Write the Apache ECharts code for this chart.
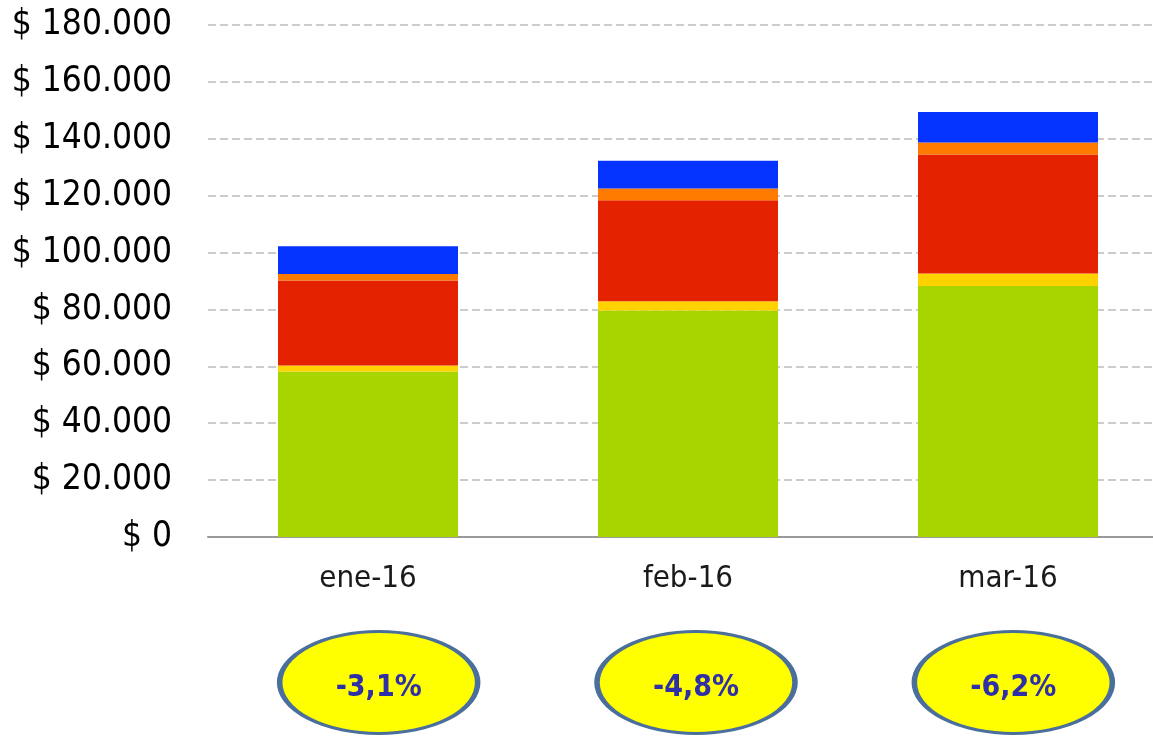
<!DOCTYPE html>
<html>
<head>
<meta charset="utf-8">
<script src="https://cdn.jsdelivr.net/npm/echarts@6/dist/echarts.min.js"></script>
<style>
  html, body { margin: 0; padding: 0; background: #fff; }
  #main { width: 1153px; height: 737px; }
</style>
</head>
<body>
<div id="main"></div>
<script>
var chartDom = document.getElementById('main');
var myChart = echarts.init(chartDom);

// datos
var meses = ['ene-16', 'feb-16', 'mar-16'];
var verde = [58200, 79650, 88200];
var amarillo = [2100, 3250, 4450];
var rojo = [29900, 35450, 41850];
var naranja = [2250, 4200, 4200];
var azul = [9800, 9700, 10750];
var variacion = [-3.1, -4.8, -6.2];

var fuente = "'DejaVu Sans Condensed', 'DejaVu Sans', sans-serif";

function formatoPesos(v) {
    var s = String(Math.round(v)).replace(/\B(?=(\d{3})+(?!\d))/g, '.');
    return '$ ' + s;
}

function serieBarra(nombre, datos, color) {
    return {
        name: nombre,
        type: 'bar',
        stack: 'total',
        barWidth: 180,
        xAxisIndex: 0,
        yAxisIndex: 0,
        itemStyle: { color: color },
        emphasis: { disabled: true },
        data: datos
    };
}

var option = {
    animation: false,
    backgroundColor: '#ffffff',
    grid: [
        // el area de trazado sobrepasa un poco el borde derecho
        { left: 208, width: 960, top: 25, bottom: 200, outerBoundsMode: 'none' },
        // grilla auxiliar para los ovalos de variacion
        { left: 220, width: 952, top: 630, bottom: 2, outerBoundsMode: 'none' }
    ],
    xAxis: [{
        type: 'category',
        gridIndex: 0,
        data: meses,
        axisTick: { show: false },
        axisLine: { lineStyle: { color: '#999999', width: 2 } },
        axisLabel: {
            color: '#1a1a1a',
            fontSize: 31,
            fontFamily: fuente,
            margin: 26
        }
    }, {
        type: 'category',
        gridIndex: 1,
        data: meses,
        show: false
    }],
    yAxis: [{
        type: 'value',
        gridIndex: 0,
        min: 0,
        max: 180000,
        interval: 20000,
        axisLine: { show: false },
        axisTick: { show: false },
        axisLabel: {
            color: '#000000',
            fontSize: 35,
            fontFamily: fuente,
            margin: 36,
            padding: [10, 0, 0, 0],
            formatter: formatoPesos
        },
        splitLine: {
            lineStyle: { color: '#cccccc', width: 2, type: [8, 4] }
        }
    }, {
        type: 'value',
        gridIndex: 1,
        min: -1,
        max: 1,
        show: false
    }],
    series: [
        serieBarra('Verde', verde, '#a8d400'),
        serieBarra('Amarillo', amarillo, '#ffd200'),
        serieBarra('Rojo', rojo, '#e42200'),
        serieBarra('Naranja', naranja, '#ff7b00'),
        serieBarra('Azul', azul, '#0433ff'),
        {
            name: 'Variacion',
            type: 'scatter',
            xAxisIndex: 1,
            yAxisIndex: 1,
            symbol: 'circle',
            symbolSize: [198, 102],
            silent: true,
            itemStyle: {
                color: '#ffff00',
                borderColor: '#4a6f9c',
                borderWidth: 4,
                opacity: 1
            },
            label: {
                show: true,
                position: 'inside',
                offset: [0, 6],
                color: '#2f2fa8',
                fontSize: 30,
                fontWeight: 'bold',
                fontFamily: fuente,
                formatter: function (p) {
                    return variacion[p.dataIndex].toFixed(1).replace('.', ',') + '%';
                }
            },
            data: meses.map(function (m, i) { return [m, 0]; })
        }
    ]
};

myChart.setOption(option);
</script>
</body>
</html>
